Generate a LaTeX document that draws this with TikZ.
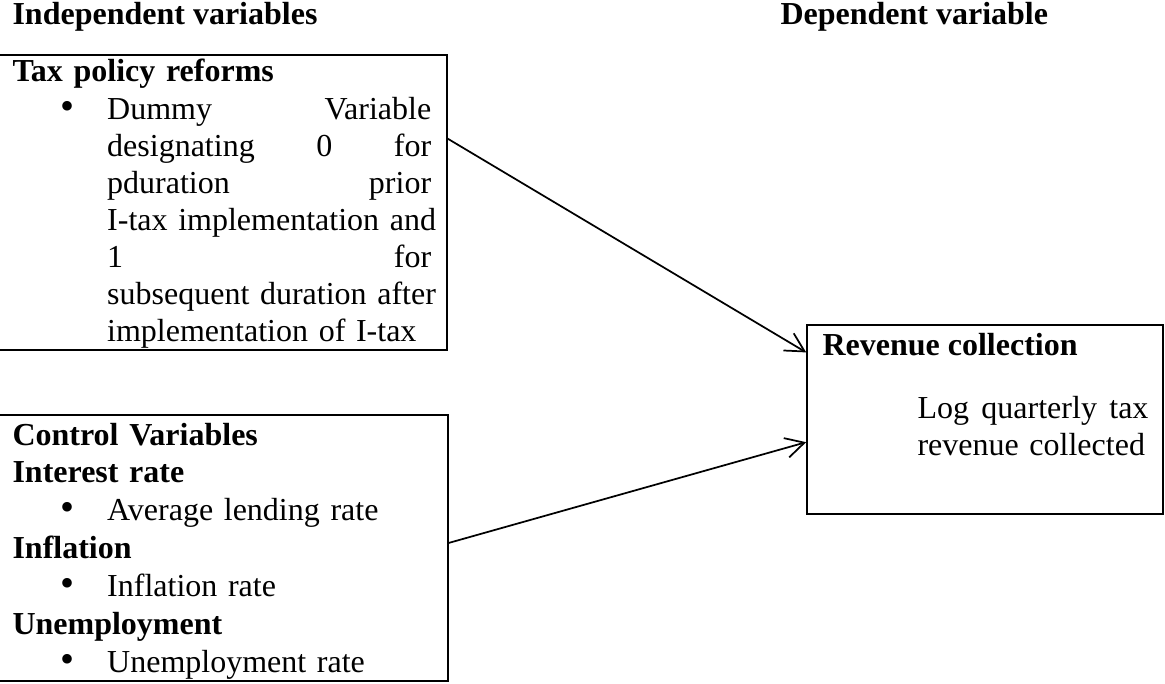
\documentclass[tikz,border=0pt]{standalone}
\usepackage{fontspec}
\setmainfont{Liberation Serif}
\usetikzlibrary{arrows.meta,calc,fit}
\newcommand{\itm}{\hspace*{18pt}\makebox[17.5pt][l]{\scalebox{1.25}{\textbullet}}}
\newcommand{\jl}[1]{\makebox[\linewidth][s]{#1}}
\newcommand{\fs}{\fontsize{12pt}{13.9pt}\selectfont}
\tikzset{
  box/.style  = {draw, line width=0.6pt, inner sep=0pt},
  hd/.style   = {anchor=base west, inner sep=0pt, font=\fs\bfseries},
  txt/.style  = {anchor=base west, inner sep=0pt, align=left, text width=165pt, font=\fs},
  flow/.style = {-{Straight Barb[length=7pt,width=7.5pt]}, line width=0.65pt},
}
\begin{document}
\begin{tikzpicture}[x=0.375pt, y=-0.375pt]
  \useasboundingbox (0,0) rectangle (1165,684);
  \node[hd] (indep) at (12,25) {Independent variables};
  \node[hd] (dep) at (780,25) {Dependent variable};

  \node[box, fit={(-4,55) (447,350)}] (tax) {};
  \node[txt] (taxtxt) at (12,82) {\textbf{Tax policy reforms}\\
    \itm\parbox[t]{121.5pt}{\jl{Dummy\hfill Variable}\\ \jl{designating\hfill 0\hfill for}\\
      \jl{pduration\hfill prior}\\ \jl{I-tax implementation and}\\ \jl{1\hfill for}\\
      \jl{subsequent duration after}\\ implementation of I-tax}};

  \node[box, fit={(-4,415) (448,681)}] (ctrl) {};
  \node[txt, font=\fontsize{12pt}{14.2pt}\selectfont] (ctrltxt) at (12,445) {%
    \textbf{Control Variables}\\ \textbf{Interest rate}\\ \itm Average lending rate\\
    \textbf{Inflation}\\ \itm Inflation rate\\ \textbf{Unemployment}\\ \itm Unemployment rate};

  \node[box, fit={(807,325) (1163,514)}] (rev) {};
  \node[hd] (revhd) at (822,355) {Revenue collection};
  \node[txt, text width=86.6pt] (revtxt) at (917,418) {\jl{Log\hfill quarterly\hfill tax}\\ revenue collected};

  \draw[flow] ($(tax.north east)!0.285!(tax.south east)$) -- ($(rev.north west)!0.148!(rev.south west)$);
  \draw[flow] ($(ctrl.north east)!0.481!(ctrl.south east)$) -- ($(rev.north west)!0.619!(rev.south west)$);
\end{tikzpicture}
\end{document}
